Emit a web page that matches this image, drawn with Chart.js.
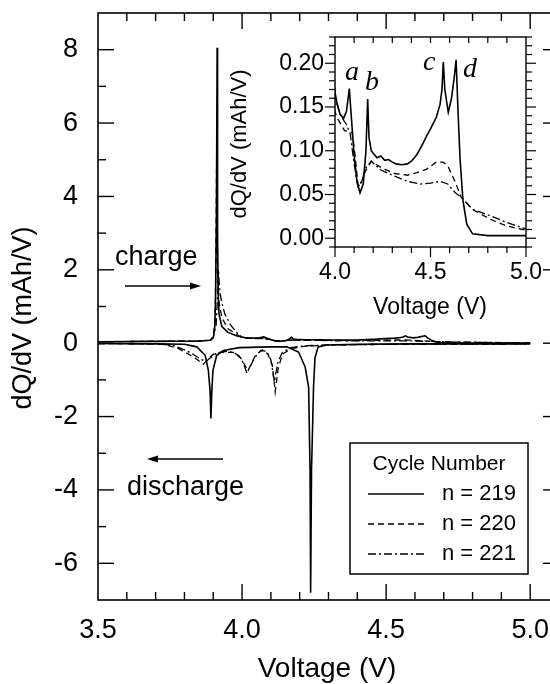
<!DOCTYPE html>
<html>
<head>
<meta charset="utf-8">
<script src="https://cdn.jsdelivr.net/npm/chart.js@4.4.1/dist/chart.umd.min.js"></script>
<style>
  html, body { margin: 0; padding: 0; background: #fff; overflow: hidden; }
  #wrap { position: relative; width: 550px; height: 684px; overflow: hidden; background: #fff; }
  #main { position: absolute; left: 0; top: 0; }
  #inset { position: absolute; left: 225px; top: 25px; }
</style>
</head>
<body>
<div id="wrap">
  <canvas id="main" width="562" height="684"></canvas>
  <canvas id="inset" width="320" height="300"></canvas>
</div>
<script>
// ---------------- DATA ----------------
// Tick labels
const mainXTicks = [3.5, 4.0, 4.5, 5.0];
const mainYTicks = [-6, -4, -2, 0, 2, 4, 6, 8];
const insetXTicks = [4.0, 4.5, 5.0];
const insetYTicks = [0.00, 0.05, 0.10, 0.15, 0.20];

// Series labels
const cycleLabels = ['n = 219', 'n = 220', 'n = 221'];

// Charge (positive dQ/dV), voltage (V) and dQ/dV (mAh/V)
const charge219V = [3.50, 3.70, 3.85, 3.89, 3.90, 3.905, 3.908, 3.911, 3.9135, 3.915, 3.917, 3.92, 3.93, 3.95, 3.98,
  4.00, 4.01, 4.026, 4.045, 4.06, 4.075, 4.085, 4.10, 4.115, 4.131, 4.148, 4.162, 4.171, 4.178, 4.19,
  4.20, 4.22, 4.24, 4.26, 4.28, 4.30, 4.32, 4.35, 4.38, 4.40, 4.43, 4.46, 4.48, 4.50, 4.53, 4.55, 4.56,
  4.567, 4.575, 4.593, 4.61, 4.625, 4.634, 4.645, 4.655, 4.67, 4.69, 4.72, 4.80, 4.90, 5.00];
const charge219Q = [0.04, 0.05, 0.06, 0.08, 0.15, 0.4, 1.2, 3.5, 8.05, 3.0, 1.4, 0.8, 0.45, 0.3, 0.2,
  0.167, 0.155, 0.142, 0.137, 0.145, 0.171, 0.14, 0.095, 0.065, 0.052, 0.062, 0.10, 0.159, 0.115, 0.100,
  0.097, 0.092, 0.094, 0.089, 0.090, 0.087, 0.085, 0.084, 0.085, 0.088, 0.096, 0.108, 0.117, 0.125, 0.138, 0.153, 0.17,
  0.2015, 0.17, 0.144, 0.16, 0.185, 0.204, 0.14, 0.09, 0.043, 0.016, 0.005, 0.003, 0.003, 0.003];

const charge220V = [3.50, 3.70, 3.85, 3.89, 3.90, 3.906, 3.909, 3.912, 3.914, 3.917, 3.92, 3.93, 3.95, 3.98,
  4.00, 4.01, 4.05, 4.09, 4.105, 4.12, 4.13, 4.16, 4.19, 4.24, 4.31, 4.38, 4.43, 4.48, 4.53, 4.565,
  4.59, 4.63, 4.66, 4.72, 4.81, 4.90, 4.98, 5.00];
const charge220Q = [0.04, 0.05, 0.06, 0.08, 0.2, 0.6, 2.0, 5.35, 2.5, 1.6, 1.1, 0.7, 0.4, 0.25,
  0.145, 0.138, 0.123, 0.121, 0.095, 0.062, 0.059, 0.077, 0.088, 0.081, 0.074, 0.072, 0.075, 0.079, 0.087, 0.087,
  0.083, 0.064, 0.047, 0.033, 0.022, 0.014, 0.010, 0.010];

const charge221V = [3.50, 3.70, 3.85, 3.89, 3.90, 3.91, 3.915, 3.918, 3.921, 3.925, 3.93, 3.94, 3.96, 3.98,
  4.00, 4.03, 4.06, 4.08, 4.10, 4.12, 4.14, 4.16, 4.19, 4.24, 4.31, 4.38, 4.45, 4.50, 4.55, 4.59,
  4.63, 4.67, 4.72, 4.81, 4.90, 4.98, 5.00];
const charge221Q = [0.04, 0.05, 0.06, 0.08, 0.15, 0.5, 1.3, 2.0, 1.6, 1.3, 1.1, 0.8, 0.5, 0.3,
  0.16, 0.14, 0.13, 0.119, 0.085, 0.059, 0.065, 0.08, 0.088, 0.078, 0.071, 0.065, 0.062, 0.063, 0.065, 0.062,
  0.052, 0.045, 0.033, 0.026, 0.018, 0.012, 0.011];

// Discharge (negative dQ/dV)
const discharge219V = [3.50, 3.70, 3.80, 3.843, 3.872, 3.883, 3.889, 3.892, 3.895, 3.899, 3.912, 3.935, 3.99, 4.10,
  4.155, 4.196, 4.219, 4.231, 4.236, 4.238, 4.241, 4.248, 4.253, 4.264, 4.294, 4.40, 4.60, 5.00];
const discharge219Q = [-0.01, -0.02, -0.03, -0.10, -0.33, -0.74, -1.3, -2.05, -1.3, -0.74, -0.33, -0.2, -0.12, -0.1,
  -0.1, -0.24, -0.65, -1.2, -3.5, -6.8, -3.5, -1.2, -0.4, -0.1, -0.05, -0.03, -0.02, -0.02];

const discharge220V = [3.50, 3.70, 3.74, 3.78, 3.81, 3.84, 3.865, 3.88, 3.90, 3.93, 3.97, 3.995, 4.01, 4.02, 4.03,
  4.045, 4.07, 4.09, 4.105, 4.115, 4.125, 4.14, 4.17, 4.22, 4.30, 4.50, 5.00];
const discharge220Q = [-0.01, -0.02, -0.05, -0.15, -0.28, -0.42, -0.58, -0.45, -0.3, -0.25, -0.25, -0.4, -0.6, -0.75, -0.6,
  -0.35, -0.18, -0.3, -0.6, -1.33, -0.7, -0.3, -0.15, -0.08, -0.05, -0.03, -0.02];

const discharge221V = [3.50, 3.72, 3.76, 3.80, 3.83, 3.86, 3.875, 3.89, 3.91, 3.94, 3.97, 3.99, 4.005, 4.017, 4.03,
  4.045, 4.065, 4.085, 4.10, 4.112, 4.125, 4.14, 4.17, 4.22, 4.30, 4.50, 5.00];
const discharge221Q = [-0.01, -0.02, -0.06, -0.18, -0.3, -0.45, -0.5, -0.4, -0.28, -0.22, -0.25, -0.35, -0.55, -0.82, -0.6,
  -0.38, -0.2, -0.22, -0.45, -1.05, -0.5, -0.25, -0.12, -0.07, -0.05, -0.03, -0.02];

// ---------------- BUILD ----------------
const FONT = '"Liberation Sans", Arial, Helvetica, sans-serif';
const SERIF = '"Liberation Serif", "Times New Roman", serif';
const pts = (xs, ys) => xs.map((x, i) => ({ x: x, y: ys[i] }));
const styles = [
  { dash: [], width: 1.6 },
  { dash: [6, 4], width: 1.3 },
  { dash: [8, 3, 2, 3], width: 1.3 }
];
const chargeSets = [[charge219V, charge219Q], [charge220V, charge220Q], [charge221V, charge221Q]];
const dischargeSets = [[discharge219V, discharge219Q], [discharge220V, discharge220Q], [discharge221V, discharge221Q]];

function makeDatasets(includeDischarge) {
  const ds = [];
  chargeSets.forEach((s, i) => ds.push({
    label: cycleLabels[i], data: pts(s[0], s[1]), borderColor: '#000', borderWidth: styles[i].width,
    borderDash: styles[i].dash, pointRadius: 0, tension: 0, fill: false, showLine: true
  }));
  if (includeDischarge) {
    dischargeSets.forEach((s, i) => ds.push({
      label: cycleLabels[i] + ' discharge', data: pts(s[0], s[1]), borderColor: '#000', borderWidth: styles[i].width,
      borderDash: styles[i].dash, pointRadius: 0, tension: 0, fill: false, showLine: true
    }));
  }
  return ds;
}

function line(ctx, x1, y1, x2, y2) {
  ctx.beginPath(); ctx.moveTo(x1, y1); ctx.lineTo(x2, y2); ctx.stroke();
}
// remove label-overflow padding so the layout padding fixes the plot frame
const noPadX = h => s => { s.height = h; s.paddingLeft = 0; s.paddingRight = 0; s.paddingTop = 0; s.paddingBottom = 0; };
const noPadY = w => s => { s.width = w; s.paddingLeft = 0; s.paddingRight = 0; s.paddingTop = 0; s.paddingBottom = 0; };

// ---------- main chart plugin ----------
const mainDecor = {
  id: 'mainDecor',
  afterDraw(chart) {
    const ctx = chart.ctx, a = chart.chartArea, xs = chart.scales.x, ys = chart.scales.y;
    ctx.save();
    ctx.strokeStyle = '#000'; ctx.fillStyle = '#000'; ctx.setLineDash([]);
    ctx.lineWidth = 1.6;
    ctx.strokeRect(a.left, a.top, a.right - a.left, a.bottom - a.top);
    ctx.lineWidth = 1.4;
    // x ticks every 0.1 V, major each 0.5 V
    for (let i = 1; i <= 16; i++) {
      const x = xs.getPixelForValue(3.5 + i * 0.1);
      const len = (i % 5 === 0) ? 16 : 8;
      line(ctx, x, a.bottom, x, a.bottom - len);
      line(ctx, x, a.top, x, a.top + len);
    }
    // y ticks every 1, major each 2
    for (let j = -6; j <= 8; j++) {
      const y = ys.getPixelForValue(j);
      const len = (j % 2 === 0) ? 16 : 8;
      line(ctx, a.left, y, a.left + len, y);
      line(ctx, a.right, y, a.right - len, y);
    }
    // axis titles
    ctx.font = '28px ' + FONT;
    ctx.textAlign = 'center'; ctx.textBaseline = 'alphabetic';
    ctx.fillText('Voltage (V)', 327, 677);
    ctx.save();
    ctx.translate(31, 318); ctx.rotate(-Math.PI / 2);
    ctx.font = '27px ' + FONT;
    ctx.fillText('dQ/dV (mAh/V)', 0, 0);
    ctx.restore();
    // charge / discharge annotations
    ctx.font = '27px ' + FONT; ctx.textAlign = 'left';
    ctx.fillText('charge', 115, 265);
    ctx.fillText('discharge', 127, 495);
    ctx.lineWidth = 1.4;
    line(ctx, 125, 286, 192, 286);
    ctx.beginPath(); ctx.moveTo(201, 286); ctx.lineTo(190, 282.5); ctx.lineTo(190, 289.5); ctx.closePath(); ctx.fill();
    line(ctx, 223, 459, 156, 459);
    ctx.beginPath(); ctx.moveTo(147, 459); ctx.lineTo(158, 455.5); ctx.lineTo(158, 462.5); ctx.closePath(); ctx.fill();
    // legend box
    ctx.lineWidth = 1.5;
    ctx.strokeRect(350, 443, 178, 131);
    ctx.font = '21px ' + FONT; ctx.textAlign = 'center'; ctx.textBaseline = 'middle';
    ctx.fillText('Cycle Number', 439, 464);
    ctx.textAlign = 'left';
    ctx.font = '22px ' + FONT;
    for (let i = 0; i < 3; i++) {
      const ds = chart.data.datasets[i];
      const y = 494 + i * 30;
      ctx.lineWidth = ds.borderWidth; ctx.setLineDash(ds.borderDash);
      line(ctx, 368, y, 424, y);
      ctx.setLineDash([]);
      ctx.fillText(ds.label, 442, y);
    }
    ctx.restore();
  }
};

new Chart(document.getElementById('main'), {
  type: 'line',
  data: { datasets: makeDatasets(true) },
  options: {
    responsive: false, animation: false, devicePixelRatio: 1,
    layout: { padding: { left: 0, top: 13, right: 3, bottom: 0 } },
    plugins: { legend: { display: false }, tooltip: { enabled: false } },
    scales: {
      x: {
        type: 'linear', min: 3.5, max: 5.1,
        afterBuildTicks: s => { s.ticks = mainXTicks.map(v => ({ value: v })); },
        afterFit: noPadX(84),
        grid: { display: false, drawTicks: false }, border: { display: false },
        ticks: { color: '#000', font: { family: FONT, size: 27, lineHeight: 1.0 }, padding: 17, maxRotation: 0, autoSkip: false,
          callback: v => v.toFixed(1) }
      },
      y: {
        type: 'linear', min: -7, max: 9,
        afterBuildTicks: s => { s.ticks = mainYTicks.map(v => ({ value: v })); },
        afterFit: noPadY(98),
        grid: { display: false, drawTicks: false }, border: { display: false },
        ticks: { color: '#000', font: { family: FONT, size: 27, lineHeight: 0.8 }, padding: 20, autoSkip: false,
          callback: v => String(v) }
      }
    }
  },
  plugins: [mainDecor]
});

// ---------- inset chart plugin ----------
const insetDecor = {
  id: 'insetDecor',
  afterDraw(chart) {
    const ctx = chart.ctx, a = chart.chartArea, xs = chart.scales.x, ys = chart.scales.y;
    ctx.save();
    ctx.strokeStyle = '#000'; ctx.fillStyle = '#000'; ctx.setLineDash([]);
    ctx.lineWidth = 1.4;
    ctx.strokeRect(a.left, a.top, a.right - a.left, a.bottom - a.top);
    ctx.lineWidth = 1.2;
    for (let i = 0; i <= 10; i++) {
      const x = xs.getPixelForValue(4.0 + i * 0.1);
      const major = i % 5 === 0;
      line(ctx, x, a.bottom, x, a.bottom + (major ? 10 : 6));
      if (i > 0 && i < 10) line(ctx, x, a.top, x, a.top + 6);
    }
    for (let j = -1; j <= 23; j++) {
      const y = ys.getPixelForValue(j * 0.01);
      const len = (j % 5 === 0) ? 10 : 6;
      line(ctx, a.left, y, a.left - len, y);
      line(ctx, a.right, y, a.right + len, y);
    }
    // titles
    ctx.font = '23px ' + FONT; ctx.textAlign = 'center'; ctx.textBaseline = 'alphabetic';
    ctx.fillText('Voltage (V)', 205, 289);
    ctx.save();
    ctx.font = '22px ' + FONT;
    ctx.translate(21, 119); ctx.rotate(-Math.PI / 2);
    ctx.fillText('dQ/dV (mAh/V)', 0, 0);
    ctx.restore();
    // peak labels
    ctx.font = 'italic 28px ' + SERIF; ctx.textAlign = 'left';
    ctx.fillText('a', 120, 55);
    ctx.fillText('b', 140, 65);
    ctx.fillText('c', 198, 45);
    ctx.fillText('d', 238, 52);
    ctx.restore();
  }
};

new Chart(document.getElementById('inset'), {
  type: 'line',
  data: { datasets: makeDatasets(false) },
  options: {
    responsive: false, animation: false, devicePixelRatio: 1,
    layout: { padding: { left: 0, top: 12, right: 19, bottom: 0 } },
    plugins: { legend: { display: false }, tooltip: { enabled: false } },
    scales: {
      x: {
        type: 'linear', min: 4.0, max: 5.0,
        afterBuildTicks: s => { s.ticks = insetXTicks.map(v => ({ value: v })); },
        afterFit: noPadX(78),
        grid: { display: false, drawTicks: false }, border: { display: false },
        ticks: { color: '#000', font: { family: FONT, size: 23, lineHeight: 1.0 }, padding: 14, maxRotation: 0, autoSkip: false,
          callback: v => v.toFixed(1) }
      },
      y: {
        type: 'linear', min: -0.01, max: 0.23,
        afterBuildTicks: s => { s.ticks = insetYTicks.map(v => ({ value: v })); },
        afterFit: noPadY(110),
        grid: { display: false, drawTicks: false }, border: { display: false },
        ticks: { color: '#000', font: { family: FONT, size: 23, lineHeight: 0.8 }, padding: 11, autoSkip: false,
          callback: v => v.toFixed(2) }
      }
    }
  },
  plugins: [insetDecor]
});
</script>
</body>
</html>
